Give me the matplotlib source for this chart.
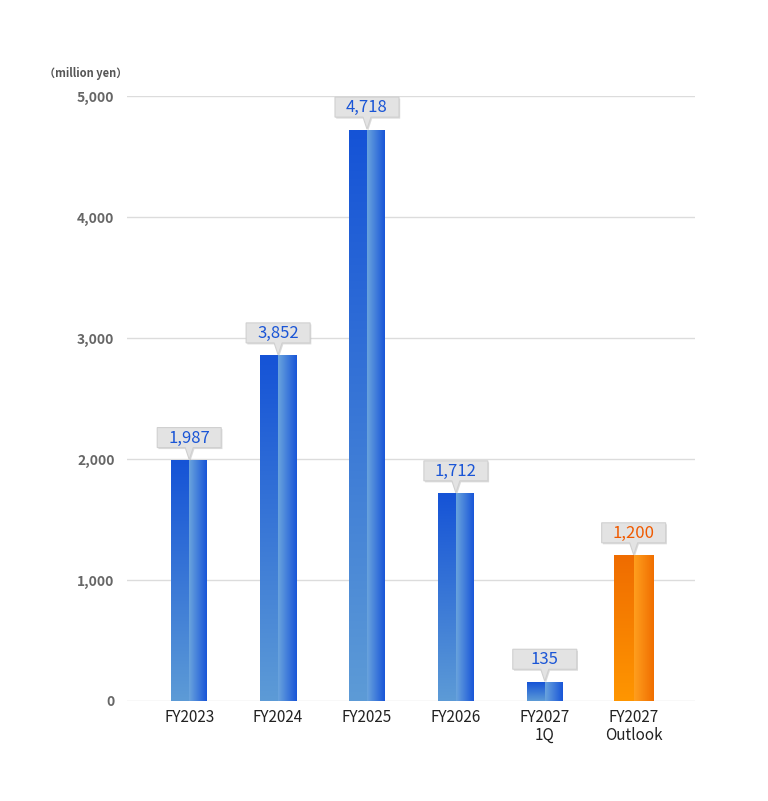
import matplotlib.pyplot as plt
import numpy as np
from matplotlib.colors import LinearSegmentedColormap
from matplotlib.patches import Polygon
from matplotlib.transforms import ScaledTranslation

plt.rcParams['font.family'] = ['Noto Sans CJK JP', 'DejaVu Sans']

categories = ['FY2023', 'FY2024', 'FY2025', 'FY2026', 'FY2027\n1Q', 'FY2027\nOutlook']
bar_values = [1987, 2852, 4718, 1712, 155, 1200]
value_labels = ['1,987', '3,852', '4,718', '1,712', '135', '1,200']
is_outlook = [False, False, False, False, False, True]

blue_v = LinearSegmentedColormap.from_list('bv', ['#5d9bd6', '#1553d6'])
blue_h = LinearSegmentedColormap.from_list('bh', ['#6aa4dd', '#1855d8'])
orange_v = LinearSegmentedColormap.from_list('ov', ['#ff9600', '#ef6c00'])
orange_h = LinearSegmentedColormap.from_list('oh', ['#ff9f1e', '#f06e00'])

fig = plt.figure(figsize=(7.68, 8.01), dpi=100)
ax = fig.add_axes([127 / 768, 100 / 801, 568 / 768, 605 / 801])

x = np.arange(len(categories))
widths = [0.45 if o else 0.405 for o in is_outlook]
bars = ax.bar(x, bar_values, width=widths, color='none', zorder=2)

vgrad = np.linspace(0, 1, 256).reshape(-1, 1)
hgrad = np.linspace(0, 1, 256).reshape(1, -1)
for b, o in zip(bars, is_outlook):
    x0, w, h = b.get_x(), b.get_width(), b.get_height()
    cv, ch = (orange_v, orange_h) if o else (blue_v, blue_h)
    ax.imshow(vgrad, cmap=cv, extent=(x0, x0 + w / 2, 0, h), origin='lower',
              aspect='auto', interpolation='bilinear', zorder=2)
    ax.imshow(hgrad, cmap=ch, extent=(x0 + w / 2, x0 + w, 0, h), origin='lower',
              aspect='auto', interpolation='bilinear', zorder=2)

ax.set_xlim(-0.7, 5.69)
ax.set_ylim(0, 5000)

# callout boxes above bars
px = 1 / 100
for xi, h, lab, o in zip(x, bar_values, value_labels, is_outlook):
    tr = fig.dpi_scale_trans + ScaledTranslation(xi, h, ax.transData)
    pts = [(-32, 13), (-4, 13), (0, 1), (4, 13), (32, 13), (32, 33), (-32, 33)]
    shadow = Polygon([(a * px + 1.2 * px, c * px - 1.5 * px) for a, c in pts],
                     closed=True, fc='#b0b0b0', ec='none', alpha=0.45,
                     transform=tr, clip_on=False, zorder=3)
    box = Polygon([(a * px, c * px) for a, c in pts], closed=True,
                  fc='#e3e3e3', ec='#d0d0d0', lw=0.8,
                  transform=tr, clip_on=False, zorder=4)
    ax.add_patch(shadow)
    ax.add_patch(box)
    ax.text(0, 22.5 * px, lab, transform=tr, ha='center', va='center',
            fontsize=12, color='#f05a00' if o else '#1a55d6', zorder=5)

ax.set_xticks(x)
ax.set_xticklabels(categories, fontsize=11, color='#222222', linespacing=1.05)
ax.set_yticks(np.arange(0, 5001, 1000))
ax.set_yticklabels([f'{v:,}' for v in range(0, 5001, 1000)],
                   fontsize=10, color='#666666', fontweight='bold')
ax.tick_params(axis='both', length=0)
ax.tick_params(axis='y', pad=9)
ax.tick_params(axis='x', pad=6)
ax.grid(axis='y', color='#dcdcdc', lw=1, zorder=0)
ax.set_axisbelow(True)
for s in ax.spines.values():
    s.set_visible(False)

fig.text(127 / 768, 1 - 74 / 801, '（million yen）', ha='right', va='center',
         fontsize=8, color='#555555', fontweight='bold')

fig.savefig('out.png', dpi=100)
